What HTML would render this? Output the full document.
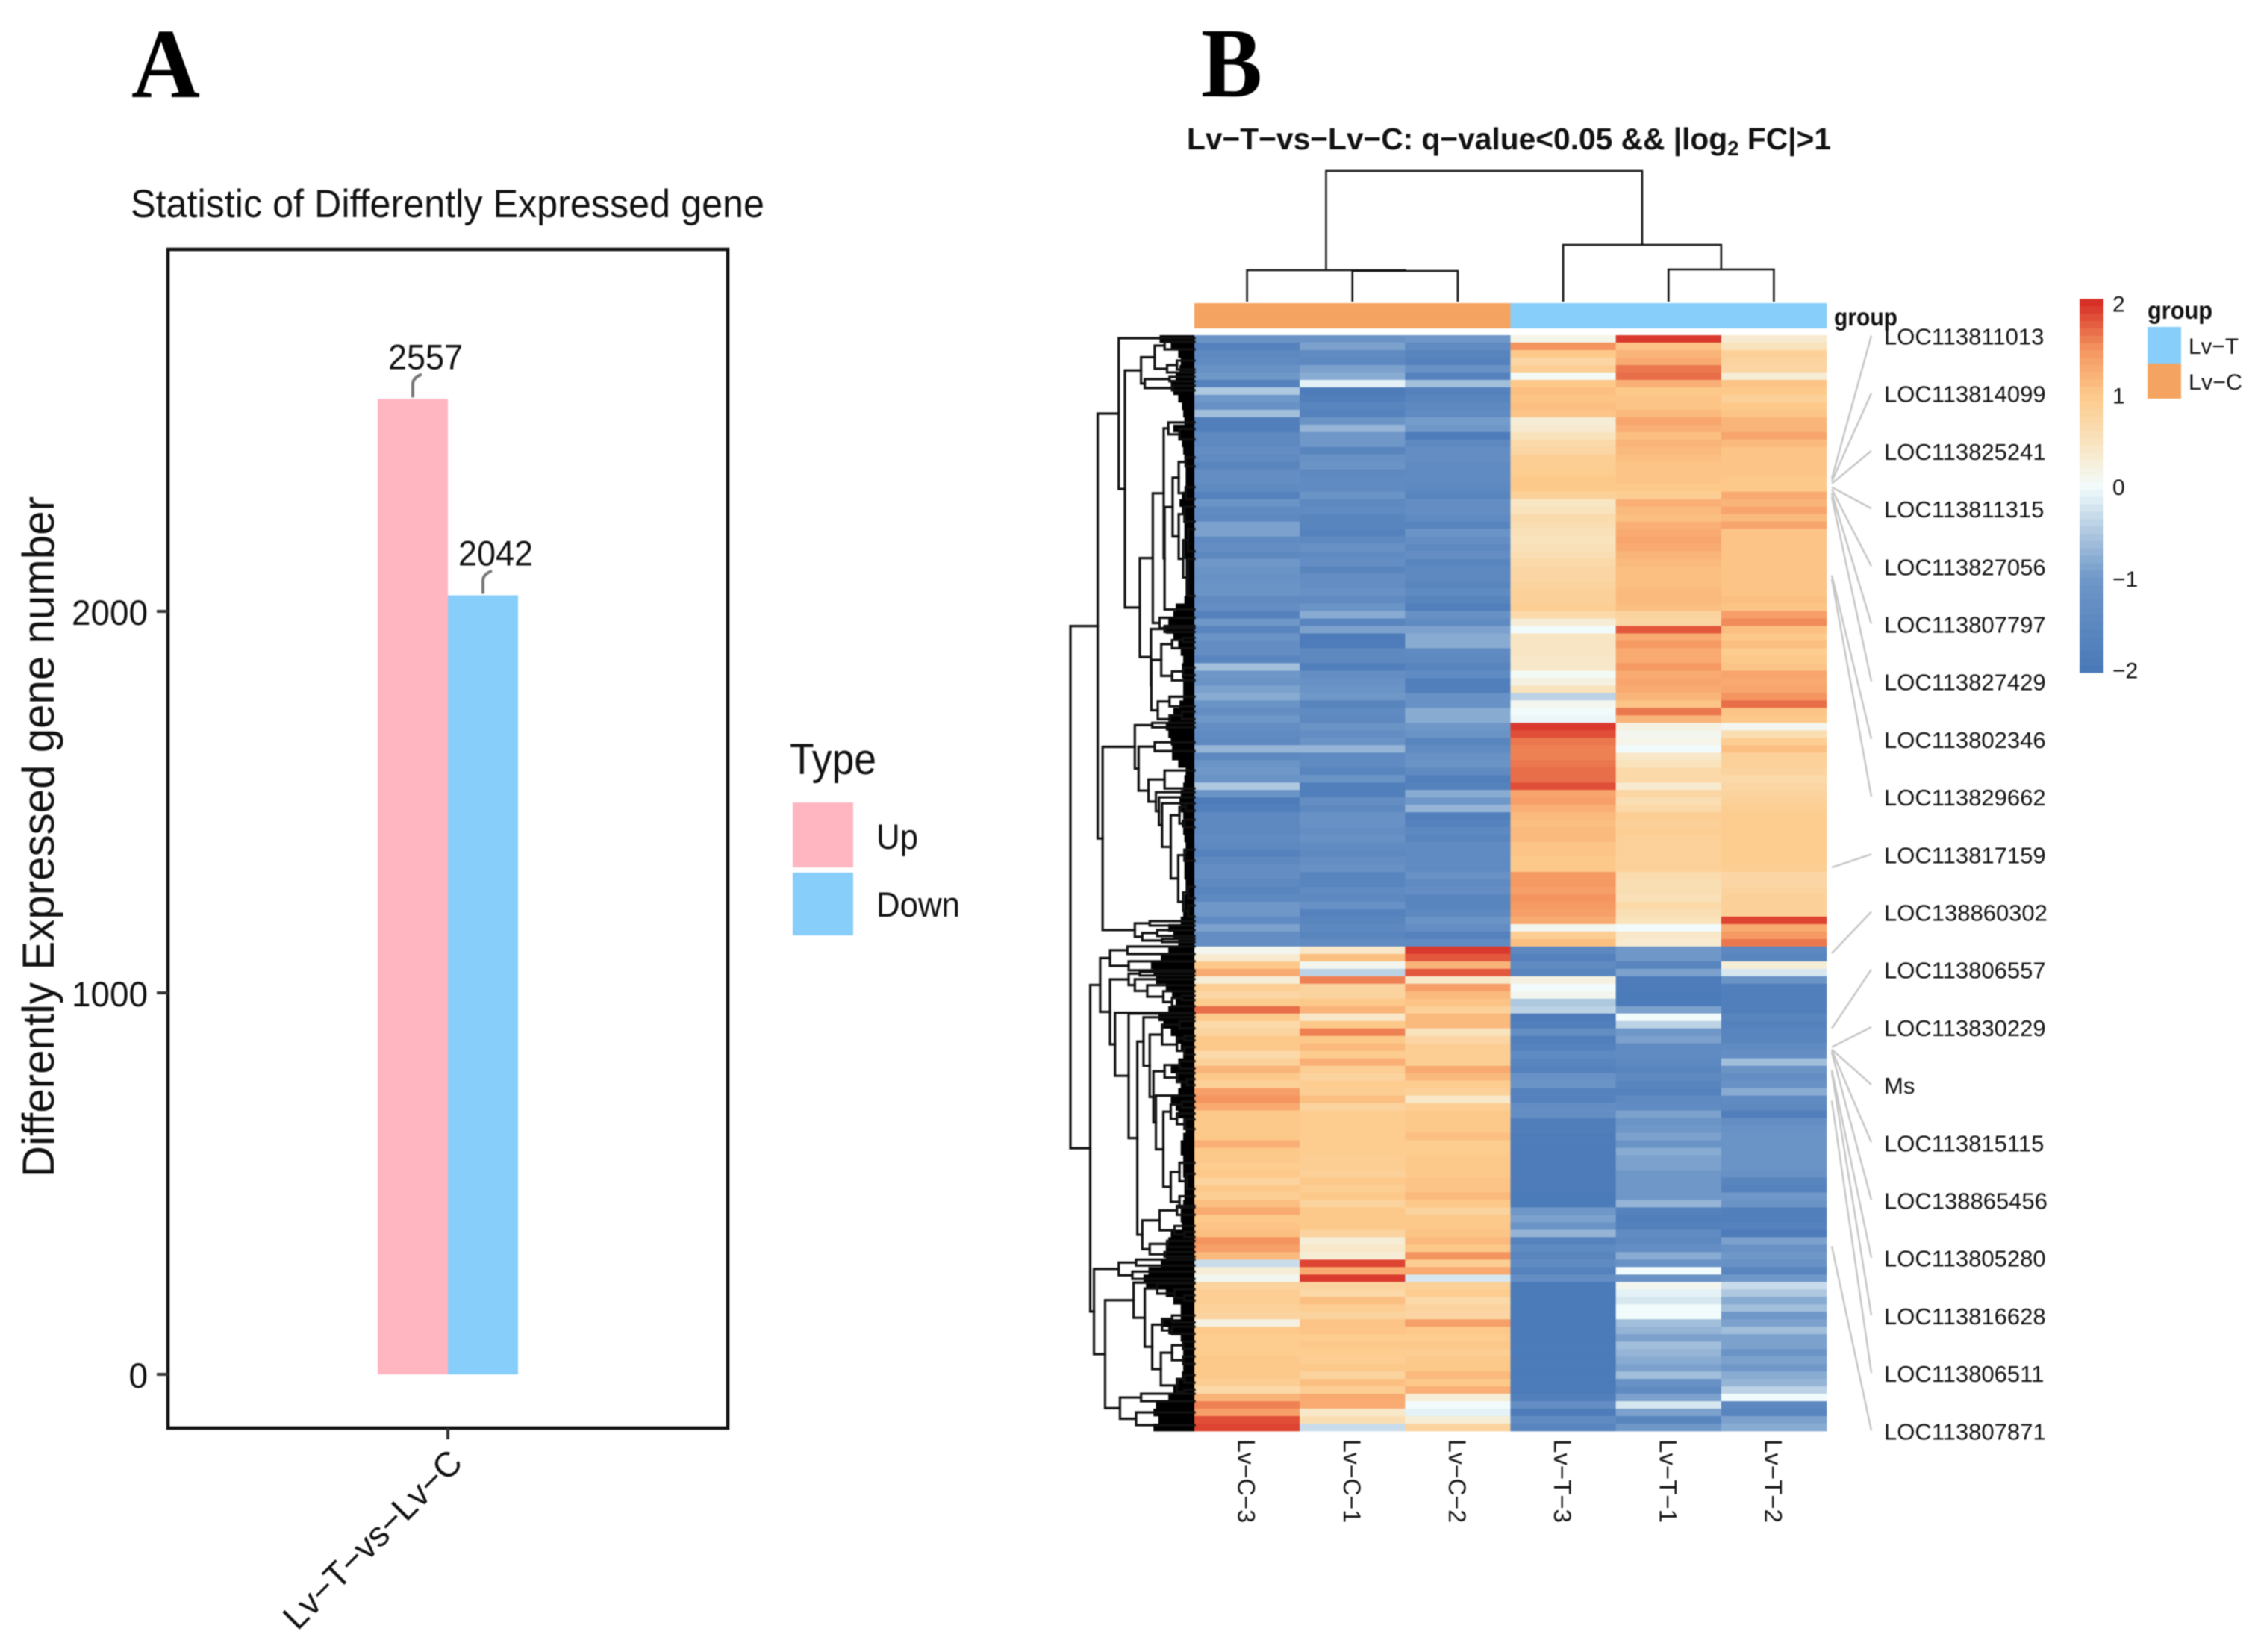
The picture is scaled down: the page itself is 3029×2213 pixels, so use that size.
<!DOCTYPE html>
<html lang="en">
<head>
<meta charset="utf-8">
<title>Differentially expressed genes: bar chart and heatmap</title>
<style>
html,body{margin:0;padding:0;background:#fff;}
svg{display:block;filter:blur(0.7px);}
text{font-family:"Liberation Sans",sans-serif;fill:#111;}
.serif{font-family:"Liberation Serif",serif;font-weight:bold;fill:#000;}
</style>
</head>
<body>
<svg id="fig" xmlns="http://www.w3.org/2000/svg" width="3029" height="2213" viewBox="0 0 3029 2213">
  <rect x="0" y="0" width="3029" height="2213" fill="#fff"/>
  <text class="serif" x="176" y="130" font-size="133" textLength="92" lengthAdjust="spacingAndGlyphs">A</text>
  <text class="serif" x="1609" y="129" font-size="133" textLength="82" lengthAdjust="spacingAndGlyphs">B</text>

  <g id="panelA">
    <text x="175" y="291" font-size="53" textLength="849" lengthAdjust="spacingAndGlyphs">Statistic of Differently Expressed gene</text>
    <text transform="translate(72,1577) rotate(-90)" x="0" y="0" font-size="60" textLength="912" lengthAdjust="spacingAndGlyphs">Differently Expressed gene number</text>
    <text x="1058" y="1037" font-size="58" textLength="116" lengthAdjust="spacingAndGlyphs">Type</text>
    <rect x="1062" y="1075" width="81" height="87" fill="#ffb6c1"/>
    <rect x="1062" y="1169" width="81" height="84" fill="#87cefa"/>
    <text x="1174" y="1137" font-size="47" textLength="56" lengthAdjust="spacingAndGlyphs">Up</text>
    <text x="1174" y="1228" font-size="47" textLength="112" lengthAdjust="spacingAndGlyphs">Down</text>
  </g>

  <g id="panelB">
    <text x="1590" y="200" font-size="41" font-weight="bold" textLength="863" lengthAdjust="spacingAndGlyphs">Lv−T−vs−Lv−C: q−value&lt;0.05 &amp;&amp; |log<tspan font-size="28" dy="8">2</tspan><tspan dy="-8"> FC|&gt;1</tspan></text>
    <text x="2457" y="436" font-size="33" font-weight="bold" textLength="85" lengthAdjust="spacingAndGlyphs">group</text>
    <text x="2877" y="427" font-size="33" font-weight="bold" textLength="87" lengthAdjust="spacingAndGlyphs">group</text>
    <rect x="2877" y="438" width="45" height="49" fill="#87cefa"/>
    <rect x="2877" y="487" width="45" height="47" fill="#f4a460"/>
    <text x="2932" y="474" font-size="30" textLength="67" lengthAdjust="spacingAndGlyphs">Lv−T</text>
    <text x="2932" y="522" font-size="30" textLength="72" lengthAdjust="spacingAndGlyphs">Lv−C</text>
  </g>
</svg>

<script>
/* ---------- Panel A data ---------- */
const barCategories = ['Up', 'Down'];
const barValues = [2557, 2042];
const barTicks = [0, 1000, 2000];
const comparison = 'Lv−T−vs−Lv−C';

/* ---------- Panel B data: expression z-scores per row ---------- */
const columnLabels = ['Lv−C−3', 'Lv−C−1', 'Lv−C−2', 'Lv−T−3', 'Lv−T−1', 'Lv−T−2'];
const columnGroups = ['C', 'C', 'C', 'T', 'T', 'T'];

const valuesC3 = [
-1.1,-1.7,-1.5,-1.4,-1.2,-1.0,-1.7,-0.5,-1.0,-1.2,
-0.6,-1.8,-1.8,-1.5,-1.5,-1.3,-1.4,-1.6,-1.3,-1.3,
-1.4,-1.7,-1.1,-1.4,-1.5,-0.9,-0.9,-1.4,-1.3,-1.5,
-1.0,-1.1,-1.2,-1.1,-1.1,-1.4,-1.3,-1.7,-1.0,-1.6,
-1.1,-1.3,-1.3,-1.6,-0.6,-1.0,-1.1,-0.9,-0.8,-1.1,
-1.3,-1.0,-1.3,-1.4,-1.5,-0.7,-1.5,-1.1,-1.0,-1.1,
-0.5,-1.1,-1.9,-1.8,-1.5,-1.5,-1.5,-1.4,-1.5,-1.7,
-1.5,-1.3,-1.3,-1.5,-1.6,-1.5,-1.0,-1.0,-1.4,-0.9,
-1.3,-1.3,0.1,0.35,1.0,1.3,0.3,0.9,0.75,0.95,
1.7,1.0,0.7,0.8,1.0,1.0,0.7,0.85,1.2,1.0,
0.85,1.4,1.5,1.3,1.0,1.0,1.0,1.0,1.25,1.0,
1.0,0.95,1.0,0.8,1.0,0.9,1.1,1.3,1.0,1.05,
1.1,1.5,1.4,1.15,-0.3,0.3,0.1,0.8,0.9,0.9,
0.85,0.8,0.2,1.0,0.95,0.95,0.95,1.0,1.0,1.0,
0.9,0.7,1.2,1.6,1.4,1.85,1.9];

const valuesC1 = [
-1.1,-0.9,-1.4,-1.5,-0.9,-0.8,-0.1,-1.9,-1.8,-1.6,
-1.7,-1.1,-0.7,-1.0,-1.0,-1.6,-1.2,-1.1,-1.5,-1.4,
-1.4,-1.1,-1.5,-1.4,-1.6,-1.6,-1.7,-1.5,-1.2,-1.4,
-1.3,-1.6,-1.3,-1.3,-1.2,-1.4,-1.1,-0.8,-1.6,-0.9,
-1.9,-1.9,-1.5,-1.5,-1.8,-1.3,-1.2,-1.1,-1.0,-1.6,
-1.4,-1.5,-1.1,-1.3,-1.1,-0.7,-1.4,-1.4,-1.6,-1.1,
-1.8,-1.8,-1.3,-1.5,-1.2,-1.2,-1.3,-1.2,-1.4,-1.5,
-1.3,-1.2,-1.6,-1.6,-1.4,-1.5,-1.2,-1.7,-1.6,-1.5,
-1.6,-1.4,0.4,1.1,0.1,-0.4,1.6,0.8,0.8,1.0,
1.2,0.4,1.0,1.6,1.0,1.15,0.95,1.25,0.9,0.8,
0.95,0.9,1.1,0.8,0.95,0.95,0.95,0.95,0.95,0.95,
0.9,0.9,0.85,1.0,0.9,1.0,0.8,1.0,1.0,1.0,
0.8,0.3,0.4,0.3,1.9,1.3,1.95,0.8,0.7,1.1,
0.9,0.8,1.05,1.05,0.95,1.0,0.95,0.9,1.0,0.8,
1.1,0.9,1.3,1.3,0.4,0.6,-0.3];

const valuesC2 = [
-1.0,-1.4,-1.6,-1.7,-1.2,-1.7,-0.6,-1.7,-1.6,-1.5,
-1.4,-0.95,-1.0,-1.9,-1.5,-1.3,-1.3,-1.4,-1.4,-1.4,
-1.5,-1.6,-1.3,-1.3,-1.4,-1.6,-1.1,-1.3,-1.5,-1.3,
-1.6,-1.5,-1.5,-1.6,-1.4,-1.6,-1.8,-1.2,-1.4,-0.9,
-0.8,-0.8,-1.4,-1.5,-1.6,-1.4,-1.8,-1.8,-1.2,-1.2,
-0.8,-0.8,-1.0,-1.1,-1.6,-1.4,-1.2,-1.1,-1.4,-1.8,
-1.7,-0.8,-1.0,-0.7,-1.8,-1.7,-1.5,-1.6,-1.4,-1.4,
-1.4,-1.4,-1.2,-1.4,-1.3,-1.6,-1.6,-1.5,-1.1,-1.3,
-1.7,-1.4,1.95,1.8,1.2,1.8,0.4,1.4,1.15,1.05,
0.85,1.15,1.15,0.5,0.75,0.9,0.9,0.9,1.3,1.15,
0.95,0.85,0.4,0.9,1.0,1.0,1.0,1.1,0.95,0.95,
1.0,1.0,1.0,1.05,1.05,1.15,1.0,0.8,1.0,1.0,
1.05,1.15,1.0,1.5,0.9,1.3,-0.2,0.85,0.95,0.7,
0.8,0.75,1.4,1.0,0.95,1.0,0.9,1.0,1.0,1.15,
1.0,1.25,0.3,0.0,-0.1,0.3,0.8];

const valuesT3 = [
0.15,1.5,1.0,0.75,0.9,0.05,1.0,1.1,1.05,1.1,
1.05,0.3,0.35,0.5,0.7,0.75,0.9,0.9,0.95,1.0,
1.0,0.85,0.45,0.5,0.65,0.6,0.55,0.5,0.55,0.6,
0.7,0.75,0.75,0.8,0.85,0.85,0.9,0.7,0.3,0.0,
0.45,0.45,0.45,0.4,0.4,0.05,0.2,0.5,-0.4,0.1,
0.0,-0.05,1.95,1.85,1.65,1.6,1.6,1.65,1.7,1.7,
1.85,1.35,1.4,1.25,1.15,1.1,1.15,1.15,1.05,1.05,
1.0,1.0,1.45,1.45,1.4,1.5,1.45,1.4,1.3,0.1,
0.9,1.1,-1.5,-1.7,-1.4,-1.6,0.2,0.0,0.1,-0.5,
-0.4,-1.9,-1.8,-1.3,-1.8,-1.7,-1.4,-1.6,-1.7,-1.2,
-1.1,-1.7,-1.7,-1.3,-1.3,-1.85,-1.85,-1.9,-1.9,-1.9,
-1.9,-1.9,-1.9,-1.9,-1.9,-1.95,-1.95,-1.0,-0.9,-1.1,
-0.7,-1.7,-1.4,-1.6,-1.4,-1.7,-1.3,-1.95,-1.95,-1.95,
-1.95,-1.95,-1.95,-1.95,-1.95,-1.95,-1.95,-1.95,-1.95,-1.95,
-1.95,-1.95,-1.8,-1.3,-1.9,-1.4,-1.6];

const valuesT1 = [
1.95,1.05,1.2,1.3,1.65,1.7,1.25,1.0,1.05,1.05,
1.15,1.35,1.25,1.1,1.2,1.15,1.1,1.05,1.05,1.05,
1.0,0.9,1.25,1.15,1.1,1.25,1.3,1.35,1.3,1.2,
1.15,1.1,1.1,1.1,1.15,1.15,1.1,0.8,0.75,1.8,
1.3,1.45,1.3,1.3,1.45,1.3,1.35,1.3,1.2,1.05,
1.65,1.2,0.2,0.1,0.15,0.0,0.4,0.5,0.7,0.7,
0.35,0.75,0.6,0.7,0.9,0.85,0.9,0.85,0.85,0.85,
0.85,0.85,0.65,0.6,0.6,0.55,0.7,0.6,0.5,0.0,
0.4,0.35,-1.0,-1.0,-1.6,-0.9,-1.9,-1.9,-1.95,-1.95,
-0.9,0.0,-0.4,-1.0,-0.9,-1.4,-1.4,-1.5,-1.6,-1.5,
-1.6,-1.7,-1.5,-1.4,-0.9,-1.1,-1.0,-0.9,-1.1,-0.8,
-0.9,-0.9,-1.0,-1.0,-1.0,-1.0,-0.7,-1.7,-1.8,-1.75,
-1.4,-1.5,-1.3,-0.8,-1.2,0.0,-1.2,0.1,-0.1,-0.2,
0.0,0.0,-0.6,-0.7,-0.9,-0.6,-0.7,-0.8,-0.9,-0.6,
-1.2,-1.4,-0.9,-0.2,-0.9,-1.6,-1.0];

const valuesT2 = [
0.35,0.5,0.85,0.8,0.75,0.3,1.05,1.0,0.85,1.0,
1.05,1.2,1.2,1.35,1.15,1.05,1.05,1.05,1.05,1.0,
1.0,1.3,1.2,1.35,1.15,1.35,1.05,1.05,1.05,1.05,
1.05,1.05,1.05,1.05,1.05,1.1,1.05,1.4,1.55,1.1,
1.0,1.1,0.95,1.0,1.05,1.35,1.3,1.35,1.5,1.7,
1.05,1.0,0.1,0.6,0.9,1.1,0.85,0.85,0.8,0.7,
0.75,0.8,0.85,0.9,0.95,0.95,0.95,0.95,0.95,0.95,
0.95,0.9,0.75,0.75,0.8,0.85,0.85,0.85,1.9,1.3,
1.45,1.65,-1.5,-1.6,0.3,-0.2,-1.1,-1.8,-1.8,-1.8,
-1.8,-1.6,-1.7,-1.6,-1.6,-1.4,-1.3,-0.6,-1.1,-1.3,
-1.2,-0.8,-1.4,-1.5,-1.8,-1.3,-1.2,-1.1,-1.1,-1.1,
-1.1,-1.1,-1.2,-1.6,-1.7,-1.0,-1.1,-1.8,-1.8,-1.7,
-1.9,-0.9,-1.2,-1.0,-1.2,-1.6,-1.0,-0.3,-0.5,-0.8,
-0.6,-1.0,-0.9,-0.6,-0.9,-0.9,-1.1,-0.9,-1.0,-0.8,
-0.7,-0.4,0.0,-1.5,-1.6,-0.9,-0.8];

const heatColumns = [valuesC3, valuesC1, valuesC2, valuesT3, valuesT1, valuesT2];

/* Depth of the unresolved leaf fan per row, in dendrogram distance units */
const leafDepth = [
25,16,10,8,9,12,16,14,10,7,
6,5,14,10,7,6,5,4,4,4,
4,7,9,7,5,5,5,5,5,5,
4,4,4,4,4,5,12,14,18,20,
14,10,8,6,7,7,6,6,6,9,
14,16,20,18,16,15,15,10,4,5,
6,8,9,8,6,7,6,5,4,4,
5,5,5,4,4,5,5,6,8,18,
14,10,18,24,32,30,28,20,15,12,
18,26,22,16,12,8,6,10,16,10,
8,10,16,12,10,4,4,6,8,8,
6,6,6,5,5,5,6,8,8,7,
16,18,20,20,24,34,38,36,20,14,
8,8,22,18,8,7,6,6,6,7,
10,14,18,28,30,26,30];

/* Row dendrogram: node = [distance, childA, childB]; a bare number is a leaf at that row */
const rowTree = [100,
  [78,
    [61, 0.4,
      [56,
        [43,
          [32, [24, 0.9, 1.9], [22, [14, 3.4, 4.6], 5.0]],
          [40, [20, 5.6, 6.2], [18, 6.8, 7.4]]],
        [44,
          [33.5,
            [24.7,
              [21, 11.7, [12, 12.6, 14]],
              [24,
                [17.5,
                  [12.6, [7, 16.4, 17.6], [7, 20.4, 22]],
                  [12.6, [8, 23, 25], [9, [5, 26, 29], [5, 30, 35]]]],
                36.8]],
            [28, 37.9, 39.3]],
          [35,
            [24, 39, 39.8],
            [34.7,
              [26.7, [18, [9, 40.6, 41.2], 42], [18, [9, 44.6, 45.6], 46.3]],
              [29.5, [20, 48.5, 49.8], [20, [10, 50.5, 51.5], 52]]]]]]],
    [74,
      [48,
        [34, 52, 52.6],
        [45,
          [32, 54.6, 55.8],
          [37,
            [24, 58.4, 60.8],
            [31, 61.3,
              [28.5, 62,
                [26, 62.8,
                  [19,
                    [12, [7, 62.8, 63.8], [8, 65, 66]],
                    [13, [8, 69, 70.5], [9, [5, 74, 75.5], [5, 76.5, 78]]]]]]]]]],
      [48, [36, 78.6, 79.2], [42, [30, 79.8, 80.6], [26, 81, 81.4]]]]],
  [84,
    [76,
      [68, [54, 82, 83], [53, 84, 85.2]],
      [68,
        [53, [44, 85.4, 85.9], [48, 86.4, [38, 87.2, [25, 88, [18, [10, 88.6, 89.2], 90]]]]],
        [64, 90.9,
          [53, 91.0,
            [46,
              [41, 91.5,
                [36,
                  [26, [12, 92, 93], [14, [8, 94, 94.6], [8, 95.5, 96.5]]],
                  [33,
                    [24, [12, 97.4, 98.4], [14, 99, [6, 99.8, 100.6]]],
                    [31, 102,
                      [25,
                        [19, [10, 102.8, 103.6], [14, 104.4, [8, 105.2, 106.5]]],
                        [19, [12, 111, [6, 112.5, 114.5]], [12, 115.5, 117]]]]]]],
              [42,
                [28, [14, 116.8, 118], [16, 119.5, [8, 120.3, 121]]],
                [36, [22, 121.5, 122.3], [24, 123, 123.6]]]]]]]],
    [81,
      [61, [47, 124, 124.8], [50, 125.6, 126.6]],
      [72,
        [49, 127.1,
          [40,
            [30, 127.2, [16, 128, [8, 128.8, 129.5]]],
            [34,
              [26, [18, 131.5, 132.4], [18, 133, 134]],
              [27,
                [18, [9, 135, 136], [9, 137, 138]],
                [14, [8, 139.5, 140.5], [8, 141.5, 142]]]]]],
        [60, [43, 142, 143], [47, 144.5, 146.2]]]]]];

/* Column dendrogram: node = [height, childA, childB]; a bare number is a column index */
const colTree = [175, [42, 0, [41, 1, 2]], [76, 3, [43, 4, 5]]];

/* Labelled genes and the heatmap row each one points to */
const geneLabels = ['LOC113811013','LOC113814099','LOC113825241','LOC113811315','LOC113827056','LOC113807797','LOC113827429','LOC113802346','LOC113829662','LOC113817159','LOC138860302','LOC113806557','LOC113830229','Ms','LOC113815115','LOC138865456','LOC113805280','LOC113816628','LOC113806511','LOC113807871'];
const geneRows = [19.2,19.6,19.9,20.4,20.7,21.2,21.7,32.2,32.7,71.4,82.9,93,95.5,95.8,95.9,96.2,98.6,98.9,102.7,122.2];

/* Colour bar */
const colorbarTicks = [2, 1, 0, -1, -2];

/* ---------- helpers ---------- */
const NS = 'http://www.w3.org/2000/svg';
const fig = document.getElementById('fig');
const panelA = document.getElementById('panelA');
const panelB = document.getElementById('panelB');

function make(parent, tag, props) {
  const el = document.createElementNS(NS, tag);
  for (const k in props) { el.setAttribute(k, props[k]); }
  parent.appendChild(el);
  return el;
}

/* ---------- colour map ---------- */
const stopVals = [-2, -1, -0.5, 0, 0.5, 1, 1.5, 2];
const stopCols = [[74,121,184],[111,151,200],[174,200,224],[242,251,251],[249,227,189],[253,201,138],[244,149,95],[215,48,39]];
function heatColor(v) {
  const c = Math.max(-2, Math.min(2, v));
  let i = 0;
  while (i < stopVals.length - 2 && c > stopVals[i + 1]) { i++; }
  const t = (c - stopVals[i]) / (stopVals[i + 1] - stopVals[i]);
  const rgb = stopCols[i].map((a, k) => Math.round(a + (stopCols[i + 1][k] - a) * t));
  return 'rgb(' + rgb.join(',') + ')';
}

/* ---------- Panel A ---------- */
const frame = { left: 225, right: 975, top: 334, bottom: 1913 };
const yBar = v => 1841 - v * 0.511;
const barWidth = 94;
const barCentre = 600;
const barLeft = i => barCentre - barWidth + i * barWidth;
const barFill = ['#ffb6c1', '#87cefa'];

barValues.forEach((v, i) => {
  const bar = make(panelA, 'rect', { x: barLeft(i), y: yBar(v), width: barWidth, height: yBar(0) - yBar(v), fill: barFill[i] });
  
  

  const cx = barLeft(i) + barWidth / 2;
  const top = yBar(v);
  const leader = make(panelA, 'path', {
    d: 'M' + cx + ' ' + (top - 2) + ' V' + (top - 20) + ' Q' + cx + ' ' + (top - 28) + ' ' + (cx + 12) + ' ' + (top - 33),
    fill: 'none', stroke: '#777', 'stroke-width': 4
  });
  
  

  const label = make(panelA, 'text', { x: cx - 33, y: top - 40, 'font-size': 47, textLength: 100, lengthAdjust: 'spacingAndGlyphs' });
  label.textContent = String(v);
  
  
});

const frameRect = make(panelA, 'rect', { x: frame.left, y: frame.top, width: frame.right - frame.left, height: frame.bottom - frame.top, fill: 'none', stroke: '#111', 'stroke-width': 4.5 });



barTicks.forEach(t => {
  const mark = make(panelA, 'line', { x1: frame.left - 15, x2: frame.left, y1: yBar(t), y2: yBar(t), stroke: '#333', 'stroke-width': 4 });
  
  
  const lab = make(panelA, 'text', { x: 198, y: yBar(t) + 18, 'font-size': 47, 'text-anchor': 'end', textLength: String(t).length * 25.5, lengthAdjust: 'spacingAndGlyphs' });
  lab.textContent = String(t);
  
  
});

const xTick = make(panelA, 'line', { x1: barCentre, x2: barCentre, y1: frame.bottom, y2: frame.bottom + 15, stroke: '#333', 'stroke-width': 4 });


const xLabel = make(panelA, 'text', { transform: 'translate(622,1962) rotate(-45)', x: 0, y: 0, 'font-size': 47, 'text-anchor': 'end', textLength: 316, lengthAdjust: 'spacingAndGlyphs' });
xLabel.textContent = comparison;



/* ---------- Panel B: heatmap ---------- */
const heat = { left: 1600, right: 2447, top: 449, bottom: 1917 };
const nRows = valuesC3.length;
const rowH = (heat.bottom - heat.top) / nRows;
const colW = (heat.right - heat.left) / heatColumns.length;
const rowY = r => heat.top + r * rowH;
const colX = c => heat.left + c * colW;

const cellLayer = make(panelB, 'g', {});


heatColumns.forEach((col, c) => {
  col.forEach((v, r) => {
    const cell = make(cellLayer, 'rect', { x: colX(c), y: rowY(r), width: colW + 0.3, height: rowH + 0.3, fill: heatColor(v) });
    
    
  });
});

/* annotation bar */
columnGroups.forEach((g, c) => {
  const ann = make(panelB, 'rect', { x: colX(c), y: 406, width: colW + 0.3, height: 34, fill: g === 'C' ? '#f4a460' : '#87cefa' });
  
  
});

/* column labels */
columnLabels.forEach((name, c) => {
  const lab = make(panelB, 'text', { transform: 'translate(' + (colX(c) + colW / 2 - 12) + ',1928) rotate(90)', x: 0, y: 0, 'font-size': 32, textLength: 112, lengthAdjust: 'spacingAndGlyphs' });
  lab.textContent = name;
  
  
});

/* row dendrogram */
const xDist = d => heat.left - d * 1.66;
const rowTreeLayer = make(panelB, 'g', { fill: 'none', stroke: '#111', 'stroke-width': 3.2, 'stroke-linecap': 'square' });



leafDepth.forEach((d, r) => {
  const fan = make(rowTreeLayer, 'rect', { x: xDist(d + 3), y: rowY(r), width: heat.left - xDist(d + 3), height: rowH + 0.3, fill: '#000', stroke: 'none' });
  
  
});

function drawRowNode(node) {
  if (typeof node === 'number') { return { y: rowY(node), d: 0 }; }
  const a = drawRowNode(node[1]);
  const b = drawRowNode(node[2]);
  const x = xDist(node[0]);
  const seg = make(rowTreeLayer, 'path', {
    d: 'M' + xDist(a.d) + ' ' + a.y + ' H' + x + ' V' + b.y + ' H' + xDist(b.d)
  });
  
  
  return { y: (a.y + b.y) / 2, d: node[0] };
}
drawRowNode(rowTree);

/* column dendrogram */
const yHeight = h => 404 - h;
const colTreeLayer = make(panelB, 'g', { fill: 'none', stroke: '#111', 'stroke-width': 2.6 });


function drawColNode(node) {
  if (typeof node === 'number') { return { x: colX(node) + colW / 2, h: 0 }; }
  const a = drawColNode(node[1]);
  const b = drawColNode(node[2]);
  const y = yHeight(node[0]);
  const seg = make(colTreeLayer, 'path', {
    d: 'M' + a.x + ' ' + yHeight(a.h) + ' V' + y + ' H' + b.x + ' V' + yHeight(b.h)
  });
  
  
  return { x: (a.x + b.x) / 2, h: node[0] };
}
drawColNode(colTree);

/* gene labels and connectors */
const labelStep = 77.2;
geneLabels.forEach((name, i) => {
  const yc = 449.5 + i * labelStep;
  const conn = make(panelB, 'line', { x1: 2454, y1: rowY(geneRows[i]), x2: 2507, y2: yc, stroke: '#c6c6c6', 'stroke-width': 2.5 });
  
  
});
geneLabels.forEach((name, i) => {
  const yc = 449.5 + i * labelStep;
  const lab = make(panelB, 'text', { x: 2524, y: yc + 12, 'font-size': 31, fill: '#222' });
  lab.textContent = name;
  
  
});

/* colour bar */
const cbX = 2786;
const cbW = 32;
const yBarScale = v => 652 - v * 122.75;
const cbLayer = make(panelB, 'g', {});


for (let v = -2.03; v < 2.03; v += 0.08) {
  const strip = make(cbLayer, 'rect', { x: cbX, y: yBarScale(v + 0.08), width: cbW, height: 0.08 * 122.75 + 0.3, fill: heatColor(v + 0.04) });
  
  
}
colorbarTicks.forEach(t => {
  const lab = make(panelB, 'text', { x: 2830, y: yBarScale(t) + 11, 'font-size': 30, fill: '#222' });
  lab.textContent = t < 0 ? '−' + Math.abs(t) : String(t);
  
  
});
</script>
</body>
</html>
